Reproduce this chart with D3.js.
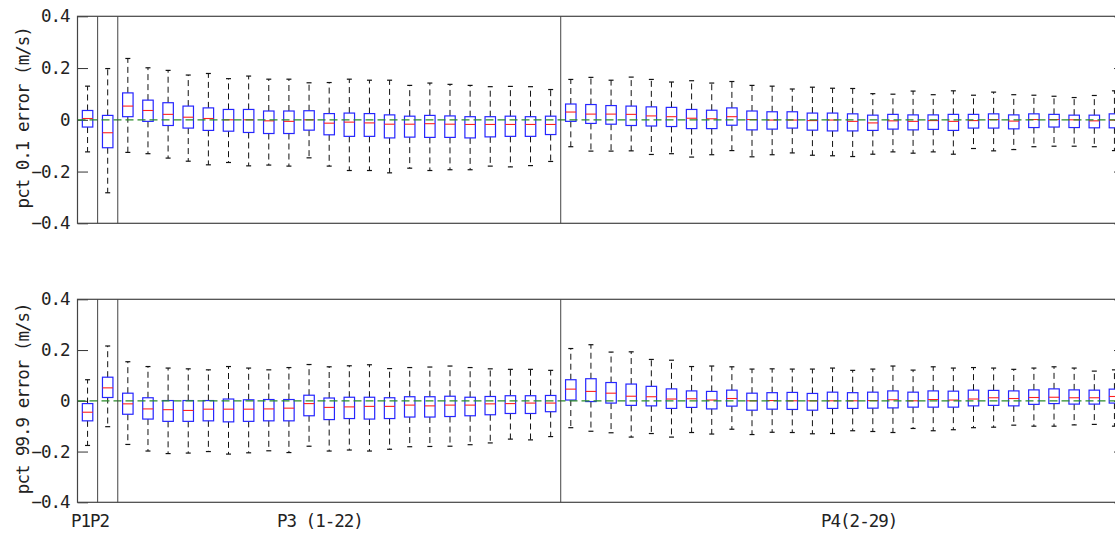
<!DOCTYPE html>
<html>
<head>
<meta charset="utf-8">
<script src="https://cdn.jsdelivr.net/npm/d3@7"></script>
<style>
  html, body { margin: 0; padding: 0; background: #fff; }
  svg { display: block; }
</style>
</head>
<body>
<svg id="chart" width="1115" height="535"></svg>
<script>
// ---------- data ----------
const groups = ["P1", "P2", "P3", "P4"];
const groupSizes = [1, 1, 22, 28];
const groupLabels = ["P1P2", "P3 (1-22)", "P4(2-29)"];
const yTicks = [-0.4, -0.2, 0, 0.2, 0.4];
const panelLabels = ["pct 0.1 error (m/s)", "pct 99.9 error (m/s)"];

// top panel: pct 0.1 error
const p01_hi = [0.130, 0.198,
  0.237, 0.201, 0.191, 0.173, 0.179, 0.159, 0.169, 0.157, 0.157, 0.143, 0.144, 0.157, 0.153, 0.153, 0.133, 0.142, 0.137, 0.133, 0.128, 0.129, 0.128, 0.117,
  0.156, 0.164, 0.153, 0.165, 0.156, 0.146, 0.151, 0.142, 0.148, 0.133, 0.130, 0.119, 0.126, 0.122, 0.121, 0.101, 0.099, 0.111, 0.097, 0.112, 0.095, 0.107, 0.097, 0.095, 0.091, 0.086, 0.094, 0.112];
const p01_q3 = [0.036, 0.017,
  0.104, 0.076, 0.066, 0.053, 0.046, 0.040, 0.040, 0.034, 0.034, 0.035, 0.024, 0.026, 0.024, 0.019, 0.014, 0.017, 0.015, 0.012, 0.012, 0.014, 0.012, 0.014,
  0.061, 0.059, 0.055, 0.053, 0.050, 0.048, 0.040, 0.037, 0.046, 0.034, 0.031, 0.031, 0.026, 0.026, 0.023, 0.018, 0.021, 0.019, 0.019, 0.021, 0.021, 0.023, 0.019, 0.023, 0.021, 0.018, 0.018, 0.023];
const p01_med = [0.005, -0.050,
  0.053, 0.036, 0.021, 0.010, 0.005, 0.000, 0.000, -0.004, -0.006, 0.000, -0.013, -0.009, -0.012, -0.017, -0.017, -0.015, -0.017, -0.018, -0.018, -0.018, -0.018, -0.018,
  0.030, 0.022, 0.022, 0.021, 0.015, 0.012, 0.006, 0.004, 0.012, 0.001, -0.001, -0.001, -0.003, -0.001, -0.006, -0.012, -0.004, -0.006, -0.003, -0.006, -0.003, 0.001, -0.005, 0.001, 0.001, 0.000, -0.004, -0.001];
const p01_q1 = [-0.028, -0.108,
  0.012, -0.006, -0.022, -0.032, -0.041, -0.044, -0.049, -0.053, -0.053, -0.040, -0.058, -0.064, -0.064, -0.070, -0.067, -0.068, -0.068, -0.070, -0.066, -0.064, -0.064, -0.057,
  -0.006, -0.014, -0.017, -0.022, -0.024, -0.026, -0.034, -0.034, -0.021, -0.039, -0.036, -0.032, -0.040, -0.043, -0.043, -0.041, -0.036, -0.039, -0.037, -0.041, -0.032, -0.032, -0.035, -0.030, -0.028, -0.030, -0.031, -0.031];
const p01_lo = [-0.124, -0.282,
  -0.126, -0.131, -0.148, -0.160, -0.174, -0.165, -0.178, -0.175, -0.179, -0.147, -0.179, -0.196, -0.196, -0.205, -0.187, -0.196, -0.193, -0.193, -0.179, -0.182, -0.177, -0.161,
  -0.104, -0.121, -0.121, -0.120, -0.134, -0.131, -0.144, -0.135, -0.119, -0.143, -0.135, -0.128, -0.137, -0.139, -0.142, -0.133, -0.124, -0.129, -0.124, -0.133, -0.111, -0.120, -0.115, -0.104, -0.102, -0.102, -0.104, -0.119];

// bottom panel: pct 99.9 error
const p999_hi = [0.083, 0.216,
  0.154, 0.135, 0.129, 0.126, 0.122, 0.135, 0.129, 0.122, 0.131, 0.143, 0.134, 0.138, 0.142, 0.127, 0.131, 0.133, 0.137, 0.131, 0.126, 0.124, 0.124, 0.120,
  0.206, 0.221, 0.192, 0.193, 0.163, 0.160, 0.135, 0.137, 0.134, 0.125, 0.126, 0.125, 0.125, 0.129, 0.120, 0.125, 0.137, 0.121, 0.134, 0.129, 0.131, 0.129, 0.124, 0.129, 0.134, 0.129, 0.117, 0.122];
const p999_q3 = [-0.011, 0.093,
  0.030, 0.012, 0.001, 0.001, 0.001, 0.007, 0.004, 0.005, 0.005, 0.022, 0.011, 0.014, 0.014, 0.012, 0.016, 0.016, 0.018, 0.014, 0.017, 0.020, 0.020, 0.021,
  0.083, 0.087, 0.072, 0.066, 0.057, 0.047, 0.039, 0.037, 0.042, 0.030, 0.032, 0.033, 0.029, 0.034, 0.032, 0.034, 0.039, 0.034, 0.039, 0.038, 0.042, 0.041, 0.039, 0.043, 0.047, 0.043, 0.042, 0.046];
const p999_med = [-0.045, 0.051,
  -0.012, -0.032, -0.035, -0.038, -0.033, -0.033, -0.033, -0.032, -0.029, -0.011, -0.026, -0.024, -0.022, -0.022, -0.017, -0.020, -0.017, -0.017, -0.012, -0.011, -0.009, -0.009,
  0.046, 0.037, 0.030, 0.018, 0.016, 0.007, 0.008, 0.003, 0.009, 0.000, 0.001, 0.000, 0.000, 0.000, 0.000, 0.001, 0.004, 0.000, 0.005, 0.003, 0.007, 0.012, 0.009, 0.013, 0.014, 0.012, 0.012, 0.017];
const p999_q1 = [-0.079, 0.013,
  -0.053, -0.072, -0.081, -0.081, -0.079, -0.083, -0.081, -0.079, -0.079, -0.059, -0.074, -0.070, -0.072, -0.070, -0.064, -0.064, -0.062, -0.059, -0.055, -0.050, -0.050, -0.043,
  0.003, -0.003, -0.009, -0.018, -0.020, -0.030, -0.026, -0.032, -0.021, -0.037, -0.033, -0.034, -0.037, -0.030, -0.030, -0.029, -0.028, -0.025, -0.025, -0.025, -0.020, -0.018, -0.020, -0.014, -0.011, -0.013, -0.013, -0.009];
const p999_lo = [-0.176, -0.102,
  -0.172, -0.198, -0.208, -0.206, -0.200, -0.210, -0.205, -0.197, -0.204, -0.179, -0.198, -0.194, -0.198, -0.191, -0.181, -0.180, -0.179, -0.173, -0.166, -0.151, -0.154, -0.141,
  -0.106, -0.120, -0.126, -0.143, -0.129, -0.143, -0.125, -0.131, -0.112, -0.133, -0.124, -0.125, -0.130, -0.129, -0.118, -0.121, -0.125, -0.109, -0.118, -0.114, -0.106, -0.104, -0.096, -0.100, -0.100, -0.095, -0.093, -0.100];

// ---------- categories (box positions 1..N) ----------
const categories = [];
groups.forEach((g, gi) => {
  for (let k = 1; k <= groupSizes[gi]; k++) categories.push(groupSizes[gi] === 1 ? g : g + "-" + k);
});
const positions = categories.map((c, i) => i + 1);
const separators = [];
{ let acc = 0; groupSizes.slice(0, -1).forEach(s => { acc += s; separators.push(acc + 0.5); }); }

// ---------- layout ----------
const FONT = "'DejaVu Sans Mono', 'Liberation Mono', monospace";
const FS = 17.5, LS = -1.0;
const svg = d3.select("#chart");
const left = 77.5, right = 1124.5;
const x = d3.scaleLinear().domain([0.5, categories.length + 0.5]).range([left, right]);
const boxW = (x(2) - x(1)) * 0.52;
const capW = 5;
const fmt = d3.format("~g");

const panels = [
  { top: 16.3, bottom: 223.3, label: panelLabels[0], hi: p01_hi, q3: p01_q3, med: p01_med, q1: p01_q1, lo: p01_lo },
  { top: 299.3, bottom: 502.3, label: panelLabels[1], hi: p999_hi, q3: p999_q3, med: p999_med, q1: p999_q1, lo: p999_lo }
];

panels.forEach(p => {
  const y = d3.scaleLinear().domain([-0.4, 0.4]).range([p.bottom, p.top]);
  const g = svg.append("g");

  // y axis (ticks inward)
  const ax = g.append("g").attr("transform", `translate(${left},0)`)
    .call(d3.axisLeft(y).tickValues(yTicks).tickSize(-10.5).tickPadding(8).tickFormat(fmt));
  ax.select(".domain").remove();
  ax.selectAll(".tick line").attr("stroke", "#333");
  ax.selectAll(".tick text").attr("font-family", FONT).attr("font-size", FS)
    .attr("letter-spacing", LS).attr("fill", "#222");
  // right-side ticks
  const axr = g.append("g").attr("transform", `translate(${right},0)`)
    .call(d3.axisRight(y).tickValues(yTicks).tickSize(-10.5).tickFormat(""));
  axr.select(".domain").remove();
  axr.selectAll(".tick line").attr("stroke", "#333");

  // boxes
  const b = g.append("g").selectAll("g.box").data(positions).join("g").attr("class", "box");
  b.append("line").attr("x1", d => x(d)).attr("x2", d => x(d))
    .attr("y1", (d, i) => y(p.q3[i])).attr("y2", (d, i) => y(p.hi[i]))
    .attr("stroke", "#111").attr("stroke-width", 1).attr("stroke-dasharray", "6,4");
  b.append("line").attr("x1", d => x(d)).attr("x2", d => x(d))
    .attr("y1", (d, i) => y(p.q1[i])).attr("y2", (d, i) => y(p.lo[i]))
    .attr("stroke", "#111").attr("stroke-width", 1).attr("stroke-dasharray", "6,4");
  b.append("line").attr("x1", d => x(d) - capW / 2).attr("x2", d => x(d) + capW / 2)
    .attr("y1", (d, i) => y(p.hi[i])).attr("y2", (d, i) => y(p.hi[i]))
    .attr("stroke", "#111").attr("stroke-width", 1.2);
  b.append("line").attr("x1", d => x(d) - capW / 2).attr("x2", d => x(d) + capW / 2)
    .attr("y1", (d, i) => y(p.lo[i])).attr("y2", (d, i) => y(p.lo[i]))
    .attr("stroke", "#111").attr("stroke-width", 1.2);
  b.append("rect").attr("x", d => x(d) - boxW / 2).attr("width", boxW)
    .attr("y", (d, i) => y(p.q3[i])).attr("height", (d, i) => y(p.q1[i]) - y(p.q3[i]))
    .attr("fill", "none").attr("stroke", "#2626ff").attr("stroke-width", 1.2);
  b.append("line").attr("x1", d => x(d) - boxW / 2).attr("x2", d => x(d) + boxW / 2)
    .attr("y1", (d, i) => y(p.med[i])).attr("y2", (d, i) => y(p.med[i]))
    .attr("stroke", "#ff2020").attr("stroke-width", 1.1);

  // zero reference line (green dashed)
  g.append("line").attr("x1", left).attr("x2", right).attr("y1", y(0)).attr("y2", y(0))
    .attr("stroke", "#2a8c2a").attr("stroke-width", 1.2).attr("stroke-dasharray", "8,4");

  // group separators
  g.selectAll("line.sep").data(separators).join("line").attr("class", "sep")
    .attr("x1", d => x(d)).attr("x2", d => x(d)).attr("y1", p.top).attr("y2", p.bottom)
    .attr("stroke", "#444").attr("stroke-width", 1);

  // frame
  g.append("rect").attr("x", left).attr("y", p.top).attr("width", right - left).attr("height", p.bottom - p.top)
    .attr("fill", "none").attr("stroke", "#444").attr("stroke-width", 1.2);

  // y label
  const cy = (p.top + p.bottom) / 2 - 2;
  g.append("text").attr("transform", `translate(29,${cy}) rotate(-90)`)
    .attr("text-anchor", "middle").attr("font-size", FS).attr("letter-spacing", LS)
    .attr("fill", "#222").attr("font-family", FONT).text(p.label);
});

// group labels under the bottom panel
const labelX = [71, 277, 821];
svg.selectAll("text.grp").data(groupLabels).join("text").attr("class", "grp")
  .attr("x", (d, i) => labelX[i]).attr("y", 527)
  .attr("font-size", FS).attr("letter-spacing", LS).attr("fill", "#222").attr("font-family", FONT)
  .text(d => d);
</script>
</body>
</html>
